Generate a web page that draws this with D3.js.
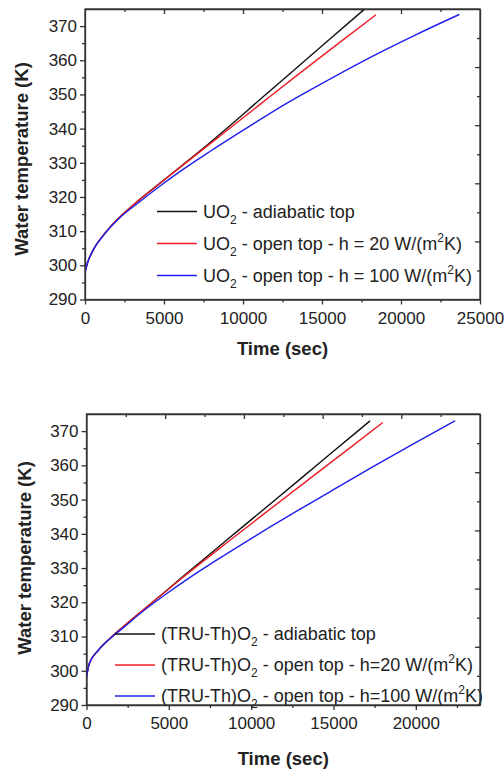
<!DOCTYPE html>
<meta charset="utf-8">
<head>
<script src="https://cdn.jsdelivr.net/npm/d3@7"></script>
<style>
body { margin: 0; background: #fff; }
text { font-family: "Liberation Sans", Arial, sans-serif; fill: #222; }
.axis path, .axis line { stroke: #333; stroke-width: 1.3px; }
.axis text { font-size: 17px; fill: #222; }
</style>
</head>
<body>
<svg id="chart" width="504" height="771"></svg>
<script>
// ---- panel 1 : UO2 ----
var uoAdiabaticT = [0, 150, 500, 1250, 2200, 3400, 4750, 6000, 7400, 8800, 11000, 13200, 15500, 17800];
var uoAdiabaticK = [298, 300.6, 304.3, 309.3, 314.1, 319.0, 324.06, 328.7, 333.95, 339.4, 348.2, 357.0, 366.2, 375.4];
var uoOpen20T = [0, 150, 500, 1250, 2200, 3400, 4750, 6000, 7400, 8800, 11000, 13700, 16000, 18420];
var uoOpen20K = [298, 300.6, 304.3, 309.3, 314.1, 319.0, 324.0, 328.6, 333.7, 338.8, 346.8, 356.6, 364.8, 373.3];
var uoOpen100T = [0, 150, 500, 1250, 2200, 3400, 4750, 6000, 7900, 10170, 12650, 15500, 18460, 21000, 23690];
var uoOpen100K = [298, 300.6, 304.3, 309.2, 313.9, 318.4, 323.2, 327.4, 333.3, 340.0, 347.1, 354.5, 361.8, 367.6, 373.4];

// ---- panel 2 : (TRU-Th)O2 ----
var truAdiabaticT = [0, 170, 720, 1530, 2240, 3350, 4770, 5780, 6900, 8500, 10500, 13030, 15000, 17220];
var truAdiabaticK = [298.2, 302.1, 306.0, 309.9, 312.9, 317.4, 323.1, 327.2, 331.7, 338.1, 346.1, 356.2, 364.1, 373.0];
var truOpen20T = [0, 170, 720, 1530, 2240, 3350, 4770, 5780, 6900, 8500, 10500, 13580, 16000, 17995];
var truOpen20K = [298.2, 302.1, 306.0, 309.9, 312.9, 317.4, 323.0, 327.0, 331.3, 337.3, 344.8, 356.2, 365.1, 372.5];
var truOpen100T = [0, 170, 720, 1530, 2240, 3350, 4770, 6290, 7800, 10300, 12870, 15000, 17220, 19800, 22390];
var truOpen100K = [298.2, 302.1, 306.0, 309.8, 312.6, 317.1, 322.2, 327.3, 332.0, 339.5, 346.9, 352.9, 359.1, 366.1, 373.0];

var yTicks = [290, 300, 310, 320, 330, 340, 350, 360, 370];
var xTicksTop = [0, 5000, 10000, 15000, 20000, 25000];
var xTicksBottom = [0, 5000, 10000, 15000, 20000];

var colours = ["#111111", "#ee1c25", "#1f1fee"];

function pts(t, k) { return t.map(function(d, i) { return [d, k[i]]; }); }

var svg = d3.select("#chart");

function drawPanel(p) {
  var x = d3.scaleLinear().domain([0, p.xMax]).range([p.left, p.right]),
      y = d3.scaleLinear().domain([290, 375]).range([p.bottom, p.top]);

  var g = svg.append("g");
  var clipId = "clip" + p.id;
  g.append("clipPath").attr("id", clipId)
    .append("rect").attr("x", p.left).attr("y", p.top)
    .attr("width", p.right - p.left).attr("height", p.bottom - p.top);

  // minor ticks
  var xMinor = d3.range(0, p.xMax + 1, 2500).filter(function(d) { return d % 5000 != 0; });
  var yMinor = d3.range(295, 375, 10);

  g.append("g").attr("class", "axis")
    .attr("transform", "translate(0," + p.bottom + ")")
    .call(d3.axisBottom(x).tickValues(xMinor).tickSize(3).tickFormat(""))
    .select(".domain").remove();
  g.append("g").attr("class", "axis")
    .attr("transform", "translate(" + p.left + ",0)")
    .call(d3.axisLeft(y).tickValues(yMinor).tickSize(3).tickFormat(""))
    .select(".domain").remove();

  g.append("g").attr("class", "axis")
    .attr("transform", "translate(0," + p.bottom + ")")
    .call(d3.axisBottom(x).tickValues(p.xTicks).tickSize(5).tickSizeOuter(0).tickPadding(4)
      .tickFormat(d3.format("d")))
    .selectAll("text").attr("dy", "0.9em");
  g.append("g").attr("class", "axis")
    .attr("transform", "translate(" + p.left + ",0)")
    .call(d3.axisLeft(y).tickValues(yTicks).tickSize(5).tickSizeOuter(0).tickPadding(3)
      .tickFormat(d3.format("d")));

  // mirror axes: 10 equal divisions, inward ticks
  var topVals = d3.range(1, 10).map(function(k) { return p.xMax * k / 10; });
  var rightVals = d3.range(1, 10).map(function(k) { return 290 + 85 * k / 10; });
  g.append("g").attr("class", "axis")
    .attr("transform", "translate(0," + p.top + ")")
    .call(d3.axisBottom(x).tickValues(topVals).tickSize(5).tickSizeOuter(0).tickFormat(""))
    .selectAll(".tick line").attr("y2", function(d, i) { return i % 2 ? 5 : 3; });
  g.append("g").attr("class", "axis")
    .attr("transform", "translate(" + p.right + ",0)")
    .call(d3.axisLeft(y).tickValues(rightVals).tickSize(5).tickSizeOuter(0).tickFormat(""))
    .selectAll(".tick line").attr("x2", function(d, i) { return i % 2 ? -5 : -3; });

  // curves
  var line = d3.line().x(function(d) { return x(d[0]); }).y(function(d) { return y(d[1]); })
    .curve(d3.curveMonotoneX);
  p.series.forEach(function(s, i) {
    g.append("path").datum(s)
      .attr("clip-path", "url(#" + clipId + ")")
      .attr("fill", "none").attr("stroke", colours[i]).attr("stroke-width", 1.4)
      .attr("d", line);
  });

  // legend
  p.legend.forEach(function(lab, i) {
    var ly = p.legY + i * p.legStep;
    g.append("line").attr("x1", p.legX).attr("x2", p.legX + 40)
      .attr("y1", ly).attr("y2", ly)
      .attr("stroke", colours[i]).attr("stroke-width", 1.4);
    var t = g.append("text").attr("x", p.legX + 46).attr("y", ly + 6)
      .style("font-size", "18px");
    lab.forEach(function(part) {
      var ts = t.append("tspan").text(part[0]);
      if (part[1] == "sub") ts.style("font-size", "12px").attr("dy", 6);
      else if (part[1] == "sup") ts.style("font-size", "12px").attr("dy", -8);
      else if (part[1] == "back") ts.attr("dy", part[2]);
    });
  });

  // axis titles
  g.append("text")
    .attr("x", (p.left + p.right) / 2).attr("y", p.xTitleY)
    .attr("text-anchor", "middle").style("font-size", "18.5px").style("font-weight", "bold")
    .text("Time (sec)");
  g.append("text")
    .attr("transform", "translate(" + p.yTitleX + "," + p.yTitleY + ") rotate(-90)")
    .attr("text-anchor", "middle").attr("dy", "0.35em")
    .style("font-size", "18.5px").style("font-weight", "bold")
    .text("Water temperature (K)");

  // frame
  g.append("rect").attr("x", p.left).attr("y", p.top)
    .attr("width", p.right - p.left).attr("height", p.bottom - p.top)
    .attr("fill", "none").attr("stroke", "#333").attr("stroke-width", 1.3);
}

drawPanel({
  id: 1, xMax: 25000, left: 85, right: 480, top: 9, bottom: 299.5,
  xTicks: xTicksTop,
  series: [pts(uoAdiabaticT, uoAdiabaticK), pts(uoOpen20T, uoOpen20K), pts(uoOpen100T, uoOpen100K)],
  legX: 157, legY: 211.5, legStep: 32,
  legend: [
    [["UO"], ["2", "sub"], [" - adiabatic top", "back", -6]],
    [["UO"], ["2", "sub"], [" - open top - h = 20 W/(m", "back", -6], ["2", "sup"], ["K)", "back", 8]],
    [["UO"], ["2", "sub"], [" - open top - h = 100 W/(m", "back", -6], ["2", "sup"], ["K)", "back", 8]]
  ],
  xTitleY: 355, yTitleX: 22, yTitleY: 159
});

drawPanel({
  id: 2, xMax: 23900, left: 86.5, right: 480, top: 414, bottom: 705,
  xTicks: xTicksBottom,
  series: [pts(truAdiabaticT, truAdiabaticK), pts(truOpen20T, truOpen20K), pts(truOpen100T, truOpen100K)],
  legX: 115, legY: 634, legStep: 31,
  legend: [
    [["(TRU-Th)O"], ["2", "sub"], [" - adiabatic top", "back", -6]],
    [["(TRU-Th)O"], ["2", "sub"], [" - open top - h=20 W/(m", "back", -6], ["2", "sup"], ["K)", "back", 8]],
    [["(TRU-Th)O"], ["2", "sub"], [" - open top - h=100 W/(m", "back", -6], ["2", "sup"], ["K)", "back", 8]]
  ],
  xTitleY: 765, yTitleX: 25, yTitleY: 558
});
</script>
</body>
